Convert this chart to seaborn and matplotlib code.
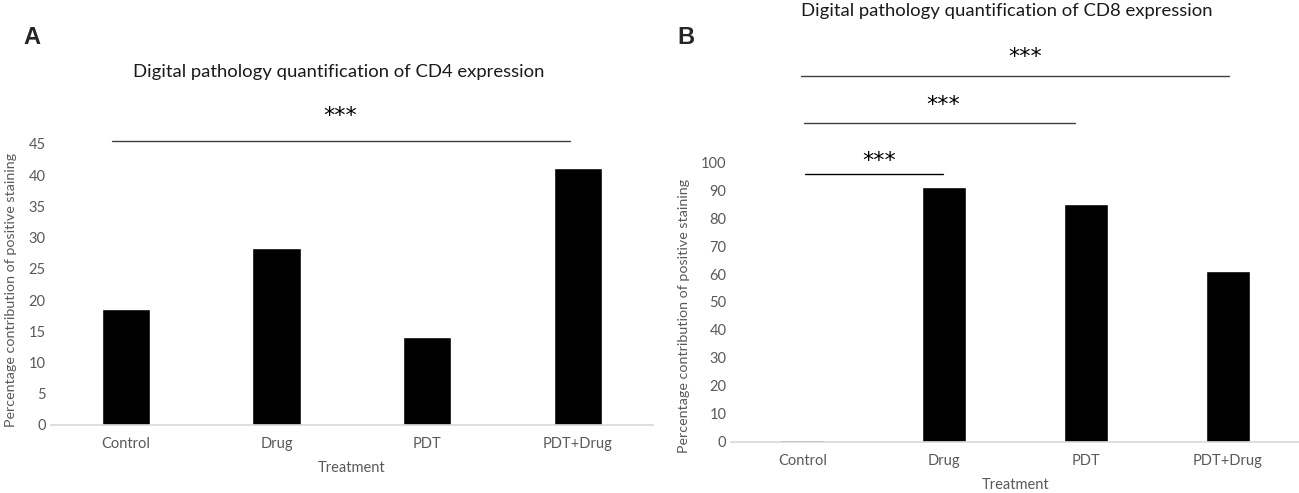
import matplotlib
matplotlib.use("Agg")
import matplotlib.pyplot as plt
import seaborn as sns

treatments = ["Control", "Drug", "PDT", "PDT+Drug"]
cd4_values = [18.6, 28.4, 14.1, 41.1]
cd8_values = [0.6, 91.3, 85.1, 61.0]
cd4_ticks = list(range(0, 50, 5))
cd8_ticks = list(range(0, 110, 10))

sns.set_style("white")
plt.rcParams['font.family'] = ['Lato', 'DejaVu Sans']

grey = '#595959'
fig = plt.figure(figsize=(12.99, 4.93), dpi=100)

ax1 = fig.add_axes([0.039, 0.138, 0.4636, 0.570])
ax2 = fig.add_axes([0.563, 0.104, 0.437, 0.567])


def style_axis(ax, ticks, ylim):
    ax.set_ylim(*ylim)
    ax.set_xlim(-0.5, 3.5)
    ax.set_yticks(ticks)
    for s in ['top', 'right', 'left']:
        ax.spines[s].set_visible(False)
    ax.spines['bottom'].set_color('#d9d9d9')
    ax.spines['bottom'].set_linewidth(1.2)
    ax.tick_params(axis='both', length=0, labelcolor=grey, labelsize=10.5)
    ax.tick_params(axis='x', pad=9)
    ax.set_xlabel("Treatment", color=grey, fontsize=10.5, labelpad=7)
    ax.set_ylabel("Percentage contribution of positive staining", color=grey, fontsize=10.3)


sns.barplot(x=treatments, y=cd4_values, color='black', width=0.32, saturation=1, ax=ax1)
style_axis(ax1, cd4_ticks, (0, 45))
ax1.yaxis.set_label_coords(-0.056, 0.48)

sns.barplot(x=treatments, y=cd8_values, color='black', width=0.31, saturation=1, ax=ax2)
style_axis(ax2, cd8_ticks, (0, 100))
ax2.yaxis.set_label_coords(-0.072, 0.45)

# significance bars
star_font = ['DejaVu Sans']
ax1.plot([-0.09, 2.95], [45.5, 45.5], color='#404040', lw=1, clip_on=False)
ax1.text(1.42, 49.4, "***", ha='center', va='center', fontsize=16, color='black', family=star_font)

ax2.plot([0.02, 0.99], [95.8, 95.8], color='black', lw=1, clip_on=False)
ax2.text(0.54, 100.5, "***", ha='center', va='center', fontsize=16, color='black', family=star_font)
ax2.plot([0.01, 1.92], [114.1, 114.1], color='#404040', lw=1, clip_on=False)
ax2.text(0.99, 120.5, "***", ha='center', va='center', fontsize=16, color='black', family=star_font)
ax2.plot([-0.01, 3.01], [130.9, 130.9], color='#404040', lw=1, clip_on=False)
ax2.text(1.57, 137.8, "***", ha='center', va='center', fontsize=16, color='black', family=star_font)

fig.text(339 / 1299, 1 - 72 / 493, "Digital pathology quantification of CD4 expression",
         ha='center', va='center', fontsize=13.3, color='#1a1a1a')
fig.text(1007 / 1299, 1 - 11 / 493, "Digital pathology quantification of CD8 expression",
         ha='center', va='center', fontsize=13.3, color='#1a1a1a')

fig.text(23 / 1299, 1 - 38 / 493, "A", ha='left', va='center', fontsize=17,
         fontweight='bold', family=['Liberation Sans', 'DejaVu Sans'])
fig.text(677 / 1299, 1 - 38 / 493, "B", ha='left', va='center', fontsize=17,
         fontweight='bold', family=['Liberation Sans', 'DejaVu Sans'])

fig.savefig("out.png", dpi=100)
